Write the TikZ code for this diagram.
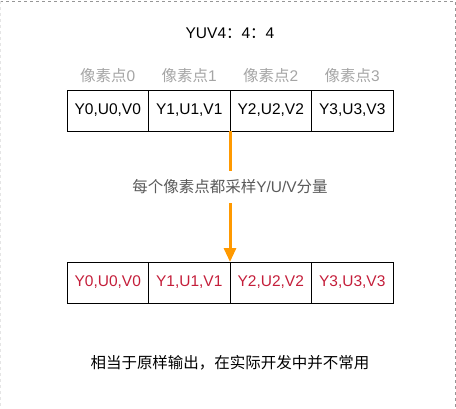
\documentclass[tikz,border=0pt]{standalone}
\usepackage{fontspec}
\setmainfont{Liberation Sans}
\newfontfamily\cjk{Noto Sans CJK SC}
\usetikzlibrary{positioning,arrows.meta}
\definecolor{arrowOrange}{RGB}{255,153,0}
\definecolor{sampleRed}{RGB}{196,30,58}
\definecolor{frameGray}{RGB}{150,150,150}
\definecolor{labelGray}{RGB}{165,165,165}
\definecolor{noteGray}{RGB}{90,90,90}
\begin{document}
\begin{tikzpicture}[
    x=1pt, y=-1pt,
    font=\fontsize{15.5}{18}\selectfont,
    % Styles
    pixel_box/.style={draw=black, line width=1pt, minimum width=81.5pt, minimum height=41pt, inner sep=0pt, outer sep=0pt},
    pixel_label/.style={text=labelGray, inner sep=0pt},
    sample_line/.style={draw=arrowOrange, line width=3pt},
    frame_line/.style={frameGray, line width=0.8pt, dash pattern=on 3pt off 3pt}
]

    % ==========================================
    % 1. FRAME
    % ==========================================
    \useasboundingbox (0,0) rectangle (456,408);
    \draw[frame_line] (0,1) -- (455,1) -- (455,408);
    \draw[frame_line, frameGray!25] (0.5,1) -- (0.5,408);

    % ==========================================
    % 2. TITLE
    % ==========================================
    \node (title) at (230,33) {YUV4{\cjk ：}4{\cjk ：}4};

    % ==========================================
    % 3. SOURCE PIXELS (top row)
    % ==========================================
    \node[pixel_box, anchor=north west] (t0) at (67,90) {Y0,U0,V0};
    \foreach \i [remember=\i as \j (initially 0)] in {1,2,3} {
        \node[pixel_box, right=0pt of t\j] (t\i) {Y\i,U\i,V\i};
    }
    \foreach \i in {0,...,3} {
        \node[pixel_label, above=7pt of t\i] (c\i) {{\cjk 像素点}\i};
    }

    % ==========================================
    % 4. SAMPLED PIXELS (bottom row)
    % ==========================================
    \node[pixel_box, text=sampleRed, anchor=north west] (b0) at (67,262) {Y0,U0,V0};
    \foreach \i [remember=\i as \j (initially 0)] in {1,2,3} {
        \node[pixel_box, text=sampleRed, right=0pt of b\j] (b\i) {Y\i,U\i,V\i};
    }

    % ==========================================
    % 5. SAMPLING ARROW
    % ==========================================
    \node[text=noteGray, inner xsep=0pt, inner ysep=9pt] (note) at (230,187) {{\cjk 每个像素点都采样}Y/U/V{\cjk 分量}};
    \draw[sample_line] (t1.south east) -- (note.north);
    \draw[sample_line, -{Triangle[width=12pt,length=14pt]}] (note.south) -- (b1.north east);

    % ==========================================
    % 6. REMARK
    % ==========================================
    \node[font=\cjk\fontsize{15.5}{18}\selectfont] (remark) at (230,363) {相当于原样输出，在实际开发中并不常用};

\end{tikzpicture}
\end{document}
